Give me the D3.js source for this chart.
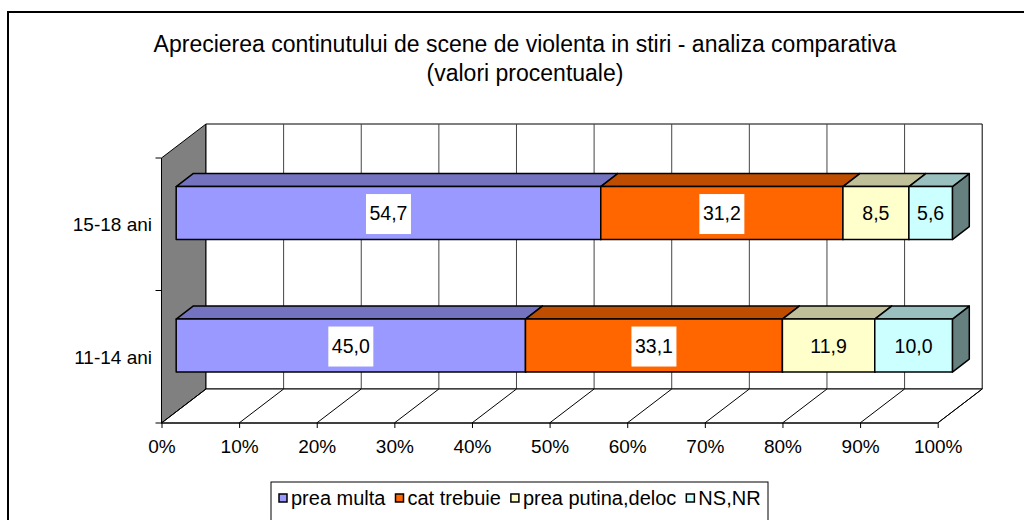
<!DOCTYPE html>
<html>
<head>
<meta charset="utf-8">
<title>Aprecierea continutului de scene de violenta in stiri</title>
<script src="https://d3js.org/d3.v7.min.js"></script>
<style>
	body { margin:0; background:#ffffff; }
	svg { font-family: Arial, "Liberation Sans", sans-serif; }
	.title { font-size:23px; fill:#000; }
	.tick-label { font-size:19px; fill:#000; }
	.cat-label { font-size:19px; fill:#000; }
	.val-label { font-size:19.5px; fill:#000; }
	.legend-label { font-size:20px; fill:#000; }
</style>
</head>
<body>
<div id="chart"></div>
<script>
// data
var categories = ["15-18 ani", "11-14 ani"];
var seriesNames = ["prea multa", "cat trebuie", "prea putina,deloc", "NS,NR"];
var values1518 = [54.7, 31.2, 8.5, 5.6];
var values1114 = [45.0, 33.1, 11.9, 10.0];
var xTicks = [0, 10, 20, 30, 40, 50, 60, 70, 80, 90, 100];
var colors = ["#9999FF", "#FF6600", "#FFFFCC", "#CCFFFF"];
var titleLines = ["Aprecierea continutului de scene de violenta in stiri - analiza comparativa", "(valori procentuale)"];

var rows = [values1518, values1114];

var width = 1024, height = 520;

var svg = d3.select("#chart").append("svg")
	.attr("width", width)
	.attr("height", height);

// outer chart border
svg.append("rect")
	.attr("x", 8).attr("y", 12)
	.attr("width", 1030).attr("height", 530)
	.attr("fill", "none").attr("stroke", "#000").attr("stroke-width", 2);

// title
svg.selectAll(".title")
	.data(titleLines)
	.enter().append("text")
	.attr("class", "title")
	.attr("x", 525)
	.attr("y", function(d, i) { return 52 + i * 29; })
	.attr("text-anchor", "middle")
	.text(function(d) { return d; });

// front plane scales, depth is added as an oblique offset
var x = d3.scaleLinear().domain([0, 100]).range([161.5, 937.7]);
var y = d3.scaleBand().domain(categories).range([158, 423]);
var depthX = 44.5, depthY = -34;
var barFront = 0.33, barBack = 0.71;   // bar position inside the depth
var barH = y.bandwidth() * 0.4;

function P(v, yy, f) { return [x(v) + f * depthX, yy + f * depthY]; }
function poly(pts) { return pts.map(function(p) { return p.join(","); }).join(" "); }

var yTop = y.range()[0], yBot = y.range()[1];

// left wall
svg.append("polygon")
	.attr("points", poly([P(0, yTop, 0), P(0, yTop, 1), P(0, yBot, 1), P(0, yBot, 0)]))
	.attr("fill", "#808080").attr("stroke", "#000").attr("stroke-width", 1);

// back wall
svg.append("polygon")
	.attr("points", poly([P(0, yTop, 1), P(100, yTop, 1), P(100, yBot, 1), P(0, yBot, 1)]))
	.attr("fill", "#fff").attr("stroke", "#000").attr("stroke-width", 1);

// back wall gridlines
svg.selectAll(".grid")
	.data(xTicks.slice(1, -1))
	.enter().append("line")
	.attr("class", "grid")
	.attr("x1", function(d) { return P(d, yTop, 1)[0]; })
	.attr("x2", function(d) { return P(d, yBot, 1)[0]; })
	.attr("y1", P(0, yTop, 1)[1])
	.attr("y2", P(0, yBot, 1)[1])
	.attr("stroke", "#444").attr("stroke-width", 1);

// floor
svg.append("polygon")
	.attr("points", poly([P(0, yBot, 0), P(0, yBot, 1), P(100, yBot, 1), P(100, yBot, 0)]))
	.attr("fill", "#fff").attr("stroke", "#000").attr("stroke-width", 1);

svg.selectAll(".floorline")
	.data(xTicks)
	.enter().append("line")
	.attr("class", "floorline")
	.attr("x1", function(d) { return P(d, yBot, 0)[0]; })
	.attr("y1", function(d) { return P(d, yBot, 0)[1]; })
	.attr("x2", function(d) { return P(d, yBot, 1)[0]; })
	.attr("y2", function(d) { return P(d, yBot, 1)[1]; })
	.attr("stroke", "#000").attr("stroke-width", 1);

// x axis along the front edge of the floor
var xAxis = d3.axisBottom(x)
	.tickValues(xTicks)
	.tickSize(5)
	.tickFormat(function(d) { return d + "%"; });

var gx = svg.append("g")
	.attr("transform", "translate(0," + yBot + ")")
	.call(xAxis);
gx.attr("font-family", null).attr("font-size", null);
gx.select(".domain").attr("stroke", "#000").attr("d", "M" + x(0) + ",0H" + x(100));
gx.selectAll(".tick line").attr("stroke", "#000");
gx.selectAll(".tick text")
	.attr("class", "tick-label")
	.attr("y", 17);

// category axis on the front edge of the left wall
var catTicks = [yTop, yTop + y.step(), yBot];
svg.append("line")
	.attr("x1", x(0)).attr("x2", x(0))
	.attr("y1", yTop).attr("y2", yBot)
	.attr("stroke", "#000");
svg.selectAll(".ytick")
	.data(catTicks)
	.enter().append("line")
	.attr("class", "ytick")
	.attr("x1", x(0) - 6).attr("x2", x(0))
	.attr("y1", function(d) { return d; })
	.attr("y2", function(d) { return d; })
	.attr("stroke", "#000");

svg.selectAll(".cat-label")
	.data(categories)
	.enter().append("text")
	.attr("class", "cat-label")
	.attr("x", 152)
	.attr("y", function(d) { return y(d) + y.bandwidth() / 2; })
	.attr("dy", "0.36em")
	.attr("text-anchor", "end")
	.text(function(d) { return d; });

function shade(c, k) {
	var r = d3.rgb(c);
	return d3.rgb(r.r * k, r.g * k, r.b * k).formatHex();
}

var fmt = function(v) { return d3.format(".1f")(v).replace(".", ","); };

// bars
rows.forEach(function(vals, ci) {
	var cat = categories[ci];
	var yc = y(cat) + y.bandwidth() / 2;
	var t = yc - barH / 2, b = yc + barH / 2;
	var segs = [];
	var acc = 0;
	vals.forEach(function(v, si) {
		segs.push({ s: si, v: v, x0: acc, x1: acc + v });
		acc += v;
	});
	var g = svg.append("g").attr("class", "bar");
	segs.forEach(function(d) {
		// side face
		g.append("polygon")
			.attr("points", poly([P(d.x1, t, barFront), P(d.x1, t, barBack), P(d.x1, b, barBack), P(d.x1, b, barFront)]))
			.attr("fill", shade(colors[d.s], 0.5)).attr("stroke", "#000").attr("stroke-width", 1.5)
			.attr("stroke-linejoin", "round");
		// top face
		g.append("polygon")
			.attr("points", poly([P(d.x0, t, barFront), P(d.x0, t, barBack), P(d.x1, t, barBack), P(d.x1, t, barFront)]))
			.attr("fill", shade(colors[d.s], 0.75)).attr("stroke", "#000").attr("stroke-width", 1.5)
			.attr("stroke-linejoin", "round");
		// front face
		g.append("polygon")
			.attr("points", poly([P(d.x0, t, barFront), P(d.x1, t, barFront), P(d.x1, b, barFront), P(d.x0, b, barFront)]))
			.attr("fill", colors[d.s]).attr("stroke", "#000").attr("stroke-width", 1.5)
			.attr("stroke-linejoin", "round");
	});
	// value labels
	segs.forEach(function(d) {
		var cx = (P(d.x0, yc, barFront)[0] + P(d.x1, yc, barFront)[0]) / 2;
		var cy = P(d.x0, yc, barFront)[1];
		if (d.s < 2) {
			g.append("rect")
				.attr("x", cx - 22.5).attr("y", cy - 19)
				.attr("width", 45).attr("height", 40)
				.attr("fill", "#fff");
		}
		g.append("text")
			.attr("class", "val-label")
			.attr("x", cx).attr("y", cy)
			.attr("dy", "0.36em")
			.attr("text-anchor", "middle")
			.text(fmt(d.v));
	});
});

// legend
var lg = svg.append("g").attr("class", "legend");
lg.append("rect")
	.attr("x", 271).attr("y", 482)
	.attr("width", 497).attr("height", 60)
	.attr("fill", "#fff").attr("stroke", "#000").attr("stroke-width", 1);

var lx = 279;
seriesNames.forEach(function(name, i) {
	lg.append("rect")
		.attr("x", lx).attr("y", 494)
		.attr("width", 8).attr("height", 8)
		.attr("fill", colors[i]).attr("stroke", "#000").attr("stroke-width", 1.5);
	var tx = lg.append("text")
		.attr("class", "legend-label")
		.attr("x", lx + 12).attr("y", 505)
		.text(name);
	lx += 12 + tx.node().getComputedTextLength() + 10;
});
</script>
</body>
</html>
